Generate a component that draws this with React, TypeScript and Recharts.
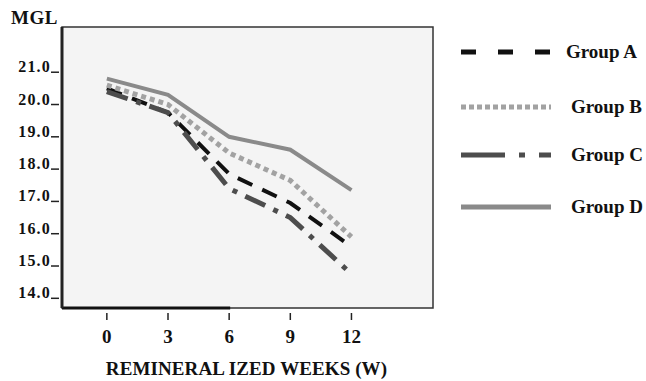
import React from "react";
import {
  LineChart,
  Line,
  XAxis,
  YAxis,
  ReferenceArea,
  ReferenceLine,
} from "recharts";

const weeks = [0, 3, 6, 9, 12];
const groupA = [20.5, 19.75, 17.85, 16.95, 15.6];
const groupB = [20.6, 20.0, 18.5, 17.65, 15.9];
const groupC = [20.4, 19.75, 17.4, 16.5, 14.75];
const groupD = [20.8, 20.3, 19.0, 18.6, 17.35];
const yTicks = [14, 15, 16, 17, 18, 19, 20, 21];

const data = weeks.map((w, i) => ({
  week: w,
  A: groupA[i],
  B: groupB[i],
  C: groupC[i],
  D: groupD[i],
}));

const serif = "'Liberation Serif', 'DejaVu Serif', serif";

const series = [
  { key: "A", name: "Group A", color: "#111111", width: 4, dash: "16 11" },
  { key: "B", name: "Group B", color: "#a2a2a2", width: 5, dash: "5 4" },
  { key: "C", name: "Group C", color: "#4d4d4d", width: 5, dash: "22 9 5 9" },
  { key: "D", name: "Group D", color: "#8a8a8a", width: 4, dash: undefined },
];

const legendDash: Record<string, string | undefined> = {
  A: "15 22",
  B: "5 3",
  C: "44 14 6 14",
  D: undefined,
};

// legend rows (y centre of each sample line)
const legendY = [52, 107, 155, 207];

function XTick(props: any) {
  const { x, y, payload } = props;
  return (
    <g>
      <line x1={x} x2={x} y1={y + 5} y2={y + 12} stroke="#222" strokeWidth={1.5} />
      <text
        x={x}
        y={y + 35}
        textAnchor="middle"
        fontFamily={serif}
        fontWeight="bold"
        fontSize={19}
        fill="#111"
      >
        {payload.value}
      </text>
    </g>
  );
}

function YTick(props: any) {
  const { x, y, payload } = props;
  return (
    <g>
      <line x1={x - 11} x2={x - 3} y1={y} y2={y} stroke="#222" strokeWidth={1.5} />
      <text
        x={x - 11}
        y={y}
        textAnchor="end"
        fontFamily={serif}
        fontWeight="bold"
        fontSize={16}
        letterSpacing={1.2}
        fill="#111"
      >
        {payload.value.toFixed(1)}
      </text>
    </g>
  );
}

function LegendBox() {
  return (
    <svg
      width={185}
      height={240}
      style={{ position: "absolute", left: 461, top: 0 }}
    >
      {series.map((s, i) => (
        <g key={s.key}>
          <line
            x1={0}
            x2={90}
            y1={legendY[i]}
            y2={legendY[i]}
            stroke={s.color}
            strokeWidth={5}
            strokeDasharray={legendDash[s.key]}
          />
          <text
            x={s.key === "A" ? 105 : 110}
            y={legendY[i] + 6}
            fontFamily={serif}
            fontWeight="bold"
            fontSize={19}
            fill="#111"
          >
            {s.name}
          </text>
        </g>
      ))}
    </svg>
  );
}

export default function App() {
  return (
    <div style={{ position: "absolute", left: 0, top: 0, width: 646, height: 381, background: "#fff" }}>
      <div
        style={{
          position: "absolute",
          left: 11,
          top: 7,
          fontFamily: serif,
          fontWeight: "bold",
          fontSize: 19,
          letterSpacing: 0.5,
          color: "#111",
        }}
      >
        MGL
      </div>
      <LineChart
        width={646}
        height={381}
        data={data}
        margin={{ top: 27, right: 213, left: 12, bottom: 33 }}
      >
        <ReferenceArea
          x1={-2.2}
          x2={16}
          y1={13.7}
          y2={22.4}
          fill="#f4f4f4"
          fillOpacity={1}
          stroke="#333"
          strokeWidth={1.5}
        />
        <ReferenceLine
          segment={[
            { x: -2.2, y: 13.7 },
            { x: 6.05, y: 13.7 },
          ]}
          stroke="#111"
          strokeWidth={3}
        />
        <XAxis
          dataKey="week"
          type="number"
          domain={[-2.2, 16]}
          ticks={weeks}
          tick={<XTick />}
          tickLine={false}
          tickSize={0}
          tickMargin={0}
          axisLine={false}
          height={40}
        />
        <YAxis
          type="number"
          domain={[13.7, 22.4]}
          ticks={yTicks}
          tick={<YTick />}
          tickLine={false}
          tickSize={0}
          tickMargin={0}
          axisLine={{ stroke: "#222", strokeWidth: 3 }}
          width={50}
        />
        {series.map((s) => (
          <Line
            key={s.key}
            dataKey={s.key}
            name={s.name}
            stroke={s.color}
            strokeWidth={s.width}
            strokeDasharray={s.dash}
            dot={false}
            isAnimationActive={false}
            type="linear"
          />
        ))}
      </LineChart>
      <LegendBox />
      <div
        style={{
          position: "absolute",
          left: 0,
          width: 493,
          top: 358,
          textAlign: "center",
          fontFamily: serif,
          fontWeight: "bold",
          fontSize: 19,
          color: "#111",
          letterSpacing: 0.1,
        }}
      >
        REMINERAL IZED WEEKS (W)
      </div>
    </div>
  );
}
